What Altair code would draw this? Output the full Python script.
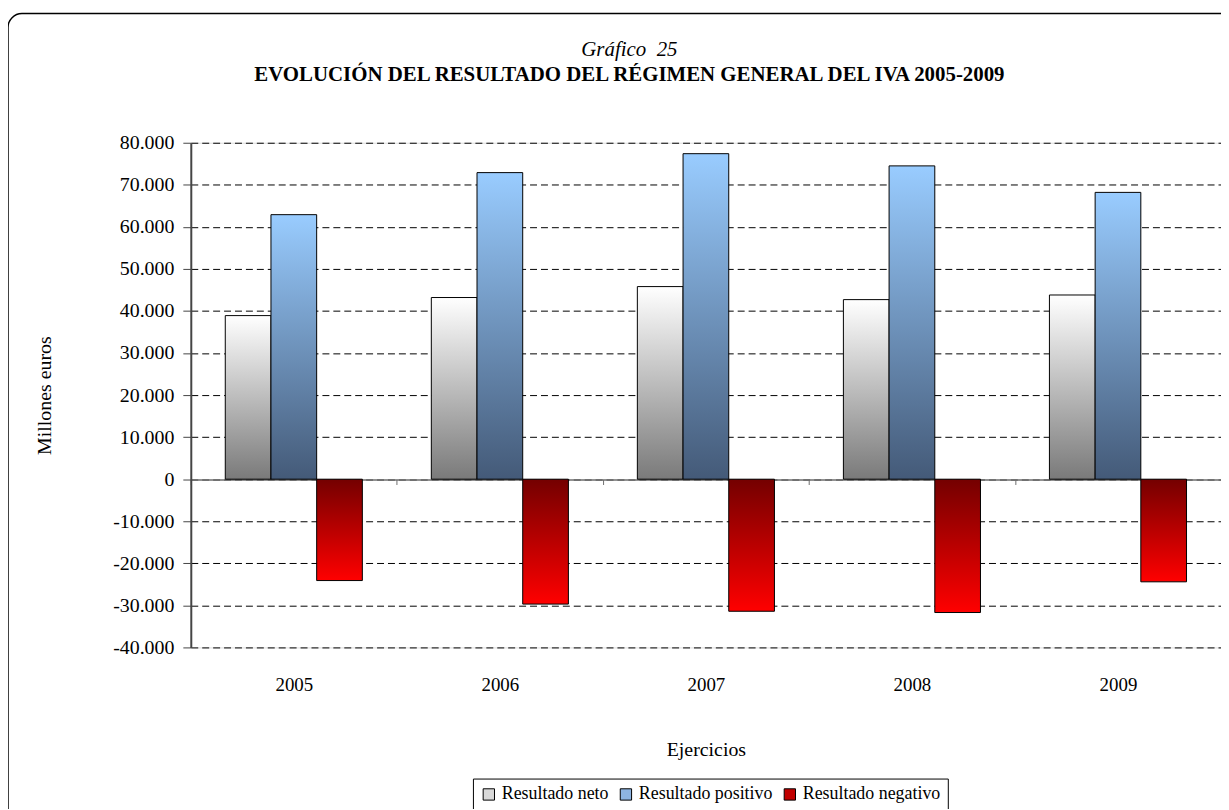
import altair as alt
import pandas as pd

years = ["2005", "2006", "2007", "2008", "2009"]
series = ["Resultado neto", "Resultado positivo", "Resultado negativo"]
neto = [38900, 43200, 45800, 42700, 43800]
positivo = [62900, 72900, 77400, 74500, 68200]
negativo = [-24100, -29700, -31400, -31700, -24400]
y_ticks = list(range(-40000, 80001, 10000))
legend_colors = ["#D9D9D9", "#8DB4E2", "#C00000"]

rows = []
for i, yr in enumerate(years):
    rows.append({"year": yr, "serie": series[0], "valor": neto[i]})
    rows.append({"year": yr, "serie": series[1], "valor": positivo[i]})
    rows.append({"year": yr, "serie": series[2], "valor": negativo[i]})
df = pd.DataFrame(rows)

FONT = "Liberation Serif"
W, H = 1037, 508


def grad(top, bottom):
    return alt.LinearGradient(
        gradient="linear", x1=0, x2=0, y1=0, y2=1,
        stops=[alt.GradientStop(color=top, offset=0),
               alt.GradientStop(color=bottom, offset=1)])


fills = {
    series[0]: grad("#FFFFFF", "#7A7A7A"),
    series[1]: grad("#99CCFF", "#445A78"),
    series[2]: grad("#740000", "#FF0000"),
}

x_enc = alt.X(
    "year:N", sort=years, title="Ejercicios",
    scale=alt.Scale(domain=years, paddingInner=0, paddingOuter=0),
    axis=alt.Axis(
        orient="bottom", offset=-169, domainColor="#6E6E6E", domainWidth=1.5,
        tickBand="extent", tickColor="#6E6E6E", tickSize=5,
        labelAngle=0, labelFont=FONT, labelFontSize=19, labelColor="black",
        labelPadding=192, titleFont=FONT, titleFontSize=20,
        titleFontWeight="normal", titleColor="black", titleY=272,
        titleBaseline="middle", grid=False))

xo_enc = alt.XOffset("serie:N", scale=alt.Scale(domain=series, paddingInner=0, paddingOuter=0.7545))

y_enc = alt.Y(
    "valor:Q", title="Millones euros",
    scale=alt.Scale(domain=[-40000, 80000], nice=False),
    axis=alt.Axis(
        values=y_ticks, grid=True, gridColor="black", gridDash=[7, 4],
        gridWidth=1, domainColor="#454545", domainWidth=2,
        tickColor="#454545", tickSize=8, labelPadding=9,
        labelFont=FONT, labelFontSize=20, labelColor="black",
        labelExpr="(datum.value < 0 ? '-' : '') + replace(format(abs(datum.value), ','), regexp(',', 'g'), '.')",
        titleFont=FONT, titleFontSize=20, titleFontWeight="normal",
        titleColor="black", titleX=-147, titleBaseline="middle"))

layers = []
for s in series:
    layers.append(
        alt.Chart(df).transform_filter(alt.datum.serie == s)
        .mark_bar(fill=fills[s], stroke="black", strokeWidth=1)
        .encode(x=x_enc, xOffset=xo_enc, y=y_enc)
    )

legend_layer = (
    alt.Chart(df).transform_filter("false")
    .mark_bar(stroke="black")
    .encode(color=alt.Color(
        "serie:N",
        scale=alt.Scale(domain=series, range=legend_colors),
        legend=alt.Legend(
            orient="none", legendX=284, legendY=640, direction="horizontal",
            title=None, strokeColor="black", fillColor="white", padding=7,
            symbolType="square", symbolSize=130, symbolStrokeColor="black",
            symbolStrokeWidth=1, symbolOpacity=1,
            labelFont=FONT, labelFontSize=18, labelColor="black",
            columnPadding=8, labelOffset=4)))
)

border = (
    alt.Chart(alt.Data(values=[{"a": 1}]))
    .mark_rect(filled=False, color="black", strokeWidth=1.5, cornerRadius=14)
    .encode(x=alt.value(-184), x2=alt.value(1080), y=alt.value(-130), y2=alt.value(720))
)

chart = alt.layer(border, *layers, legend_layer).properties(
    width=W, height=H,
    autosize=alt.AutoSizeParams(type="none"),
    padding={"left": 184, "top": 133, "right": 0, "bottom": 160},
    title=alt.Title(
        text="Gráfico\u00a0\u00a025",
        subtitle="EVOLUCIÓN DEL RESULTADO DEL RÉGIMEN GENERAL DEL IVA 2005-2009",
        anchor="middle", dx=-77, dy=133, offset=60,
        font=FONT, fontSize=21, fontStyle="italic", fontWeight="normal", color="black",
        subtitleFont=FONT, subtitleFontSize=21, subtitleFontWeight="bold",
        subtitleColor="black", subtitlePadding=5),
).configure_view(fill="#FFFFCC", strokeWidth=0).configure(background="white")

chart.save("out.html", embed_options={"renderer": "svg", "actions": False})
